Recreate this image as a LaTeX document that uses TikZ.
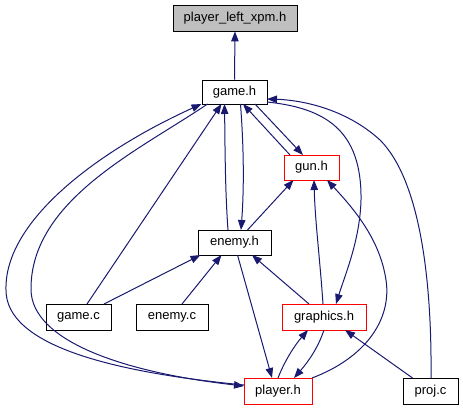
\documentclass[tikz,border=0pt]{standalone}
\usepackage{fontspec}
\setmainfont{Liberation Sans}
\usetikzlibrary{arrows.meta}
\definecolor{edgec}{HTML}{191970}
\definecolor{fillgray}{HTML}{BFBFBF}
\begin{document}
\begin{tikzpicture}[x=1pt,y=-1pt,
  box/.style={draw=black,line width=0.9pt,fill=white,inner sep=0pt,font=\fontsize{13}{15}\selectfont},
  redbox/.style={box,draw=red},
  dep/.style={draw=edgec,line width=1pt,-{Triangle[length=10pt,width=7.5pt]}}]
\useasboundingbox (0,0) rectangle (463,411);
% nodes
\node[box,fill=fillgray,minimum width=124pt,minimum height=26pt] (plx) at (235,18) {player\_left\_xpm.h};
\node[box,minimum width=65pt,minimum height=24pt] (gameh) at (234.5,92) {game.h};
\node[redbox,minimum width=55pt,minimum height=25pt] (gunh) at (311.5,167.5) {gun.h};
\node[box,minimum width=73pt,minimum height=25pt] (enemyh) at (234.5,242.5) {enemy.h};
\node[box,minimum width=65pt,minimum height=26pt] (gamec) at (78.5,317) {game.c};
\node[box,minimum width=72pt,minimum height=26pt] (enemyc) at (172,317) {enemy.c};
\node[redbox,minimum width=84pt,minimum height=26pt] (graphicsh) at (324,317) {graphics.h};
\node[redbox,minimum width=68pt,minimum height=26pt] (playerh) at (278,391) {player.h};
\node[box,minimum width=55pt,minimum height=26pt] (projc) at (430.5,391) {proj.c};
% edges
\draw[dep] (gameh.north) -- (plx.south);
\draw[dep] ([shift={(20.5,12)}]gameh.center) -- ([shift={(-8.5,-12.5)}]gunh.center);
\draw[dep] ([shift={(-21.5,-12.5)}]gunh.center) -- ([shift={(8.5,12)}]gameh.center);
\draw[dep] ([shift={(6,12)}]gameh.center) .. controls (244,150) and (244,190) .. ([shift={(6.5,-12.5)}]enemyh.center);
\draw[dep] ([shift={(-6.5,-12.5)}]enemyh.center) .. controls (225,190) and (225,140) .. ([shift={(-10,12)}]gameh.center);
\draw[dep] ([shift={(8.5,-13)}]gamec.center) -- ([shift={(-13,12)}]gameh.center);
\draw[dep] ([shift={(25.5,-13)}]gamec.center) -- ([shift={(-34,12.5)}]enemyh.center);
\draw[dep] ([shift={(10,-13)}]enemyc.center) -- ([shift={(-13,12.5)}]enemyh.center);
\draw[dep] ([shift={(13,-12.5)}]enemyh.center) -- ([shift={(-18,12.5)}]gunh.center);
\draw[dep] ([shift={(-1,-13)}]graphicsh.center) .. controls (320,260) and (315,220) .. ([shift={(2.5,12.5)}]gunh.center);
\draw[dep] ([shift={(34,-13)}]playerh.center) .. controls (365,358) and (392,320) .. (386,280) .. controls (380,240) and (355,210) .. ([shift={(15.5,12.5)}]gunh.center);
\draw[dep] ([shift={(-15,-13)}]graphicsh.center) -- ([shift={(17.5,12.5)}]enemyh.center);
\draw[dep] ([shift={(3,12.5)}]enemyh.center) -- ([shift={(-6,-13)}]playerh.center);
\draw[dep] ([shift={(0,-13)}]playerh.center) .. controls (285,360) and (295,345) .. ([shift={(-16,13)}]graphicsh.center);
\draw[dep] ([shift={(0,13)}]graphicsh.center) .. controls (318,348) and (308,362) .. ([shift={(16,-13)}]playerh.center);
\draw[dep] ([shift={(-18,-13)}]projc.center) -- ([shift={(21,13)}]graphicsh.center);
\draw[dep] ([shift={(0.5,-13)}]projc.center) .. controls (432,280) and (420,180) .. (380,140) .. controls (345,108) and (300,100) .. ([shift={(32.5,7)}]gameh.center);
\draw[dep] ([shift={(32.5,10)}]gameh.center) .. controls (325,108) and (362,130) .. (361,200) .. controls (360,240) and (345,275) .. ([shift={(12,-13)}]graphicsh.center);
\draw[dep] ([shift={(-34,-6)}]playerh.center) .. controls (110,372) and (6,345) .. (6,290) .. controls (4,220) and (100,150) .. ([shift={(-33,12)}]gameh.center);
\draw[dep] ([shift={(-27,12)}]gameh.center) .. controls (140,150) and (30,200) .. (31,290) .. controls (32,340) and (120,372) .. ([shift={(-34,-5)}]playerh.center);
\end{tikzpicture}
\end{document}
